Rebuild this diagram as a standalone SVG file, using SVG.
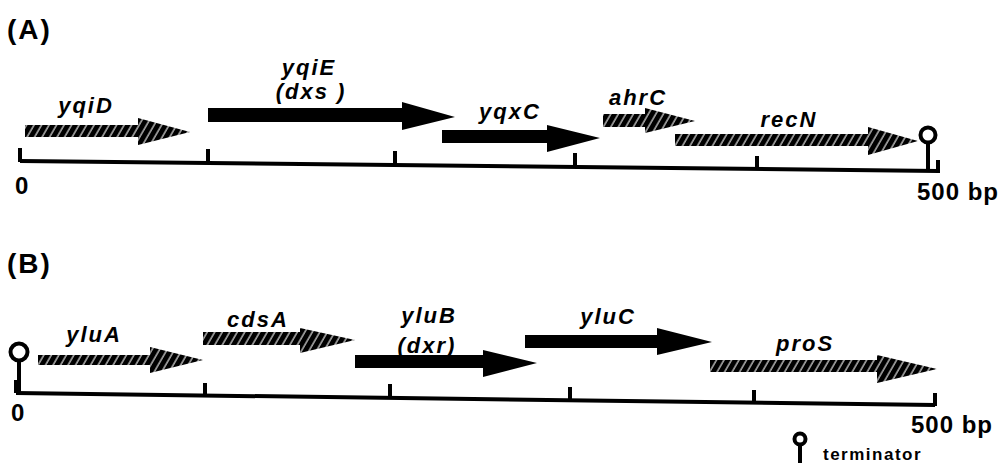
<svg xmlns="http://www.w3.org/2000/svg" width="1002" height="468" viewBox="0 0 1002 468">
<defs>
<pattern id="hatch" patternUnits="userSpaceOnUse" width="6.5" height="6.5" patternTransform="rotate(30)">
<rect width="6.5" height="6.5" fill="#000"/>
<line x1="1" y1="0" x2="1" y2="6.5" stroke="#fff" stroke-width="1.05"/>
</pattern>
</defs>
<style>
text{font-family:"Liberation Sans",Arial,sans-serif;font-weight:bold;fill:#000}
.panel{font-size:28px;letter-spacing:2px}
.gene{font-size:22px;font-style:italic;letter-spacing:2px;text-anchor:middle}
.num{font-size:24px;letter-spacing:1px}
.leg{font-size:17px;letter-spacing:1.5px}
.solid{fill:#000}
.hatched{fill:url(#hatch)}
.axis{stroke:#000;stroke-width:4;fill:none}
.tick{stroke:#000;stroke-width:4;fill:none}
.term{fill:#fff;stroke:#000;stroke-width:4}
.stem{stroke:#000;stroke-width:4}
</style>
<rect width="1002" height="468" fill="#fff"/>

<text class="panel" x="7" y="39">(A)</text>
<g id="axisA">
<line class="axis" x1="20" y1="161" x2="938" y2="171"/>
<line class="tick" x1="20" y1="148" x2="20" y2="162"/>
<line class="tick" x1="208" y1="149" x2="208" y2="163"/>
<line class="tick" x1="395" y1="151" x2="395" y2="165"/>
<line class="tick" x1="575" y1="153" x2="575" y2="167"/>
<line class="tick" x1="757" y1="156" x2="757" y2="169"/>
<line class="tick" x1="938" y1="160" x2="938" y2="173"/>
<text class="num" x="15" y="194">0</text>
<text class="num" x="917" y="200">500 bp</text>
</g>
<g id="termA">
<line class="stem" x1="928" y1="142" x2="928" y2="171"/>
<circle class="term" cx="928" cy="135" r="7.5"/>
</g>
<g id="yqiD">
<polygon class="hatched" points="25,125 138,125 138,118 190,132 138,145 138,137 25,137"/>
<text class="gene" x="86" y="113">yqiD</text>
</g>
<g id="yqiE">
<polygon class="solid" points="208,108 402,108 402,102 455,117 402,130 402,122 208,122"/>
<text class="gene" x="309" y="75">yqiE</text>
<text class="gene" x="311" y="99">(dxs )</text>
</g>
<g id="yqxC">
<polygon class="solid" points="442,130 547,130 547,125 600,138 547,152 547,143 442,143"/>
<text class="gene" x="510" y="119">yqxC</text>
</g>
<g id="ahrC">
<polygon class="hatched" points="603,114 645,114 645,108 695,121 645,133 645,127 603,127"/>
<text class="gene" x="638" y="105">ahrC</text>
</g>
<g id="recN">
<polygon class="hatched" points="675,134 868,134 868,127 918,141 868,155 868,146 675,146"/>
<text class="gene" x="789" y="127">recN</text>
</g>

<text class="panel" x="7" y="273">(B)</text>
<g id="axisB">
<line class="axis" x1="16" y1="393" x2="935" y2="405"/>
<rect x="14" y="380" width="6" height="13" fill="#000"/>
<line class="tick" x1="205" y1="383" x2="205" y2="395"/>
<line class="tick" x1="390" y1="384" x2="390" y2="397"/>
<line class="tick" x1="570" y1="387" x2="570" y2="399"/>
<line class="tick" x1="754" y1="390" x2="754" y2="402"/>
<line class="tick" x1="935" y1="393" x2="935" y2="406"/>
<text class="num" x="11" y="421">0</text>
<text class="num" x="911" y="433">500 bp</text>
</g>
<g id="termB">
<line class="stem" x1="19" y1="361" x2="19" y2="392"/>
<circle class="term" cx="19" cy="352" r="8.5"/>
</g>
<g id="yluA">
<polygon class="hatched" points="38,355 150,355 150,347 203,360 150,373 150,365 38,365"/>
<text class="gene" x="94" y="342">yluA</text>
</g>
<g id="cdsA">
<polygon class="hatched" points="203,332 300,332 300,328 355,340 300,353 300,345 203,345"/>
<text class="gene" x="258" y="327">cdsA</text>
</g>
<g id="yluB">
<polygon class="solid" points="355,355 483,355 483,350 537,363 483,377 483,368 355,368"/>
<text class="gene" x="429" y="323">yluB</text>
<text class="gene" x="427" y="353">(dxr)</text>
</g>
<g id="yluC">
<polygon class="solid" points="525,335 657,335 657,328 712,342 657,355 657,348 525,348"/>
<text class="gene" x="608" y="324">yluC</text>
</g>
<g id="proS">
<polygon class="hatched" points="710,360 877,360 877,355 937,369 877,383 877,372 710,372"/>
<text class="gene" x="805" y="351">proS</text>
</g>

<g id="legend">
<line class="stem" x1="800" y1="445" x2="800" y2="463"/>
<circle class="term" cx="800" cy="439" r="5.5"/>
<text class="leg" x="823" y="460">terminator</text>
</g>
</svg>
